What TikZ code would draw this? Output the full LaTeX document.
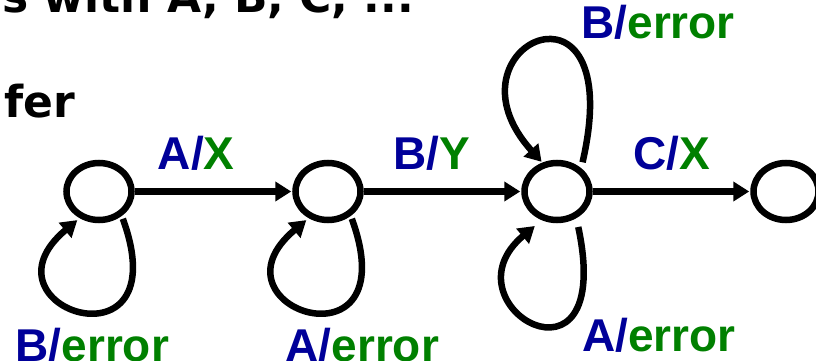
\documentclass[tikz,border=0pt]{standalone}
\usepackage{fontspec}
\usetikzlibrary{positioning, arrows.meta, shapes.geometric}

\newfontfamily\lblfont{Liberation Sans}
\newfontfamily\slidefont{DejaVu Sans}
\definecolor{inblue}{RGB}{0,0,153}
\definecolor{outgreen}{RGB}{0,128,0}
\newcommand{\io}[2]{{\color{inblue}#1/}{\color{outgreen}#2}}

\tikzset{
  st/.style={ellipse, draw, minimum width=65pt, minimum height=57pt, inner sep=0pt},
  lbl/.style={font=\lblfont\bfseries\fontsize{46pt}{50pt}\selectfont, inner sep=0pt},
  slide/.style={font=\slidefont\bfseries\fontsize{44pt}{48pt}\selectfont, inner sep=0pt, anchor=base west},
  loopbelow/.style={out=-70, in=-140, out distance=170pt, in distance=140pt,
    shorten <=3pt, shorten >=3pt},
}

\begin{document}
\begin{tikzpicture}[->,>={Triangle[length=16pt,width=19pt]},shorten >=1pt,auto,
		node distance=229pt, line width=6.5pt]
  \useasboundingbox (0,0) rectangle (816pt,-361pt);

  % slide text around the picture
  \node[slide] (head) at (-1pt,-13pt) {s with A, B, C, ...};
  \node[slide] (fer) at (1pt,-117pt) {fer};

  \node[st] (s1) at (99pt,-191.5pt) {};
  \node[st] (s2) [right of=s1] {};
  \node[st] (s3) [right of=s2] {};
  \node[st] (s4) [right of=s3] {};

  \path (s1) edge node[lbl, above=18pt, pos=.39] {\io{A}{X}} (s2)
		(s2) edge node[lbl, above=18pt, pos=.43] {\io{B}{Y}} (s3)
		(s3) edge node[lbl, above=18pt, pos=.5] {\io{C}{X}} (s4)
		(s1.-47) edge[loopbelow] node[lbl, below=14pt, xshift=10pt] {\io{B}{error}} (s1.-126)
		(s2.-47) edge[loopbelow] node[lbl, below=14pt, xshift=51pt] {\io{A}{error}} (s2.-126)
		(s3.44) edge[out=77, in=132, out distance=215pt, in distance=158pt, shorten <=6pt]
			node[lbl, right=38pt, yshift=20pt] {\io{B}{error}} (s3.117)
		(s3.-54) edge[out=-78, in=-140, out distance=192pt, in distance=132pt,
			shorten <=9pt, shorten >=9pt]
			node[lbl, right=43pt, yshift=-14pt] {\io{A}{error}} (s3.-118);

\end{tikzpicture}
\end{document}
